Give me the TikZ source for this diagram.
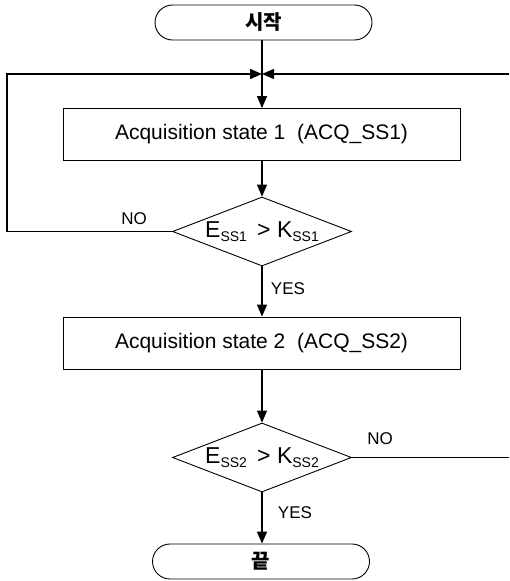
\documentclass[tikz,border=0pt]{standalone}
\usepackage{fontspec}
\setmainfont{Liberation Sans}
\newfontfamily\kor{Noto Sans CJK KR}
\usetikzlibrary{arrows.meta,shapes.geometric}
\tikzset{
  term/.style={draw,line width=0.9pt,rectangle,rounded corners=17.5pt,minimum width=217pt,minimum height=35pt,inner sep=0pt,font=\kor\bfseries\fontsize{20}{20}\selectfont},
  procbox/.style={draw,line width=0.9pt,rectangle,minimum width=397pt,minimum height=52pt,inner sep=0pt,font=\fontsize{21}{21}\selectfont},
  decis/.style={draw,line width=0.9pt,diamond,aspect=2.6,minimum width=179pt,minimum height=69pt,inner sep=0pt,font=\fontsize{23}{23}\selectfont},
  conn/.style={line width=1.5pt},
  arr/.style={line width=1.5pt,-{Triangle[length=12pt,width=10pt]}},
  lbl/.style={font=\fontsize{17}{17}\selectfont,inner sep=0pt}
}
\newcommand{\sbs}[1]{\raisebox{-4.5pt}{\fontsize{14}{14}\selectfont #1}}
\begin{document}
\begin{tikzpicture}[x=1pt,y=-1pt]
\useasboundingbox (0,0) rectangle (509,581);
\node[term] (start) at (263.5,22.5) {시작};
\node[procbox] (box1) at (261.5,134.5) {Acquisition state 1\ \ (ACQ\_SS1)};
\node[decis] (d1) at (262,231.5) {E\sbs{SS1}\ \,>\ K\sbs{SS1}};
\node[procbox] (box2) at (261.5,343) {Acquisition state 2\ \ (ACQ\_SS2)};
\node[decis] (d2) at (262,457.5) {E\sbs{SS2}\ \,>\ K\sbs{SS2}};
\node[term] (end) at (261,561.5) {끝};
\coordinate (j) at (262,74);
\coordinate (lc) at (7,74);
\coordinate (rc) at (509,74);
\coordinate (re) at (509,457.5);
% flow
\draw[arr] (start.south -| j) -- (box1.north -| j);
\draw[arr] (box1.south -| d1.north) -- (d1.north);
\draw[arr] (d1.south) -- (box2.north -| d1.south);
\draw[arr] (box2.south -| d2.north) -- (d2.north);
\draw[arr] (d2.south) -- (end.north -| d2.south);
% loops
\draw[arr] (d1.west) -| (lc) -- (j);
\draw[arr] (rc) -- (j);
\draw[conn] (d2.east) -- (re);
% labels
\node[lbl] (no1) at (134,219) {NO};
\node[lbl] (yes1) at (288,289) {YES};
\node[lbl] (no2) at (380,439) {NO};
\node[lbl] (yes2) at (295,513) {YES};
\end{tikzpicture}
\end{document}
